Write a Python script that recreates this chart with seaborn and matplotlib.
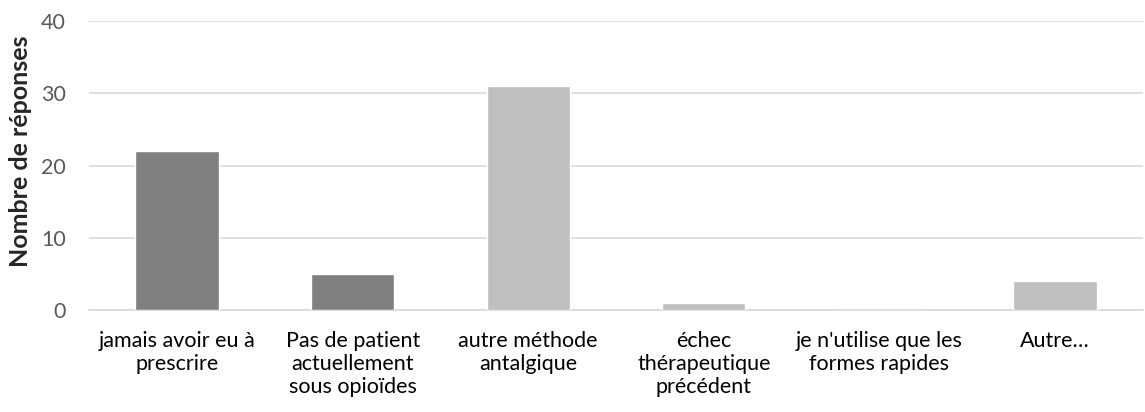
import numpy as np
import pandas as pd
import seaborn as sns
import matplotlib.pyplot as plt

# data
categories = [
    "jamais avoir eu à\nprescrire",
    "Pas de patient\nactuellement\nsous opioïdes",
    "autre méthode\nantalgique",
    "échec\nthérapeutique\nprécédent",
    "je n'utilise que les\nformes rapides",
    "Autre…",
]
reponses = [22, 5, 31, 1, 0, 4]
bar_colors = ["#808080", "#808080", "#bfbfbf", "#bfbfbf", "#bfbfbf", "#bfbfbf"]

df = pd.DataFrame({"categorie": categories, "reponses": reponses})

sns.set_style("white")
plt.rcParams["font.family"] = ["Lato", "DejaVu Sans"]

fig = plt.figure(figsize=(11.45, 4.12), dpi=100)
ax = fig.add_axes([0.078, 0.247, 0.92, 0.702])

sns.barplot(data=df, x="categorie", y="reponses", hue="categorie",
            palette=bar_colors, width=0.475, legend=False, ax=ax, zorder=3)

ax.set_ylim(0, 40)
ax.set_yticks([0, 10, 20, 30, 40])
ax.set_xlim(-0.5, len(categories) - 0.5)
ax.grid(axis="y", color="#d9d9d9", linewidth=1.2, zorder=0)
ax.set_axisbelow(True)

for s in ["top", "right", "left"]:
    ax.spines[s].set_visible(False)
ax.spines["bottom"].set_color("#d9d9d9")
ax.spines["bottom"].set_linewidth(1.2)

# category separators on the bottom axis
ax.set_xticks(np.arange(len(categories) + 1) - 0.5, minor=True)
ax.tick_params(axis="x", which="minor", length=6, width=1.2, color="#d9d9d9", direction="out")
ax.tick_params(axis="x", which="major", length=0, pad=15, labelsize=15.5, labelcolor="#000000")
ax.tick_params(axis="y", length=0, pad=17, labelsize=15.5, labelcolor="#595959")
for lbl in ax.get_xticklabels():
    lbl.set_linespacing(1.2)

ax.set_xlabel("")
ax.set_ylabel("Nombre de réponses", fontsize=18, fontweight="bold", labelpad=6)
ax.yaxis.label.set_y(0.55)

fig.savefig("out.png", dpi=100)
